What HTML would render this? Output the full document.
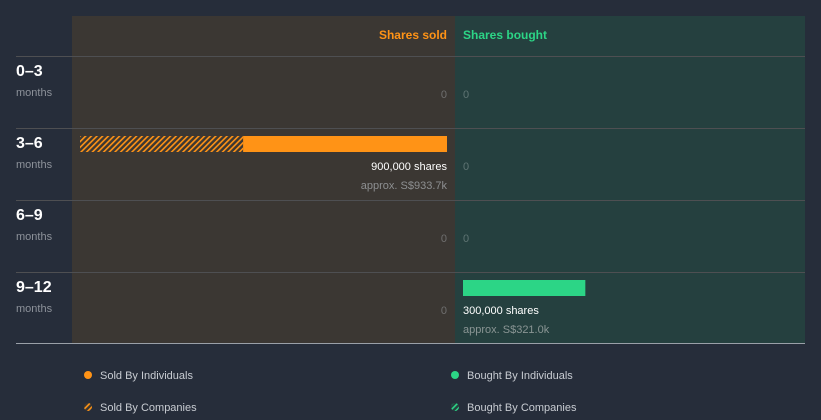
<!DOCTYPE html>
<html><head><meta charset="utf-8"><style>
html,body{margin:0;background:#262d3a;font-family:"Liberation Sans",sans-serif;overflow:hidden;width:821px;height:420px}
svg{display:block}
svg text{font-family:"Liberation Sans",sans-serif}
</style></head><body>
<svg id="c" width="821" height="420" xmlns="http://www.w3.org/2000/svg">
<defs>
<pattern id="hs" width="4" height="4" patternUnits="userSpaceOnUse" patternTransform="rotate(45)"><rect width="4" height="4" fill="#3b3733"/><rect width="1.6" height="4" fill="#ff9316"/></pattern>
<pattern id="hb" width="4" height="4" patternUnits="userSpaceOnUse" patternTransform="rotate(45)"><rect width="4" height="4" fill="#25403f"/><rect width="1.6" height="4" fill="#2cd586"/></pattern>
</defs>
<rect x="0" y="0" width="821" height="420" fill="#262d3a"/>
<rect x="72" y="16" width="383" height="327" fill="#3b3733"/>
<rect x="455" y="16" width="350" height="327" fill="#25403f"/>
<text x="447" y="39" text-anchor="end" font-size="12" font-weight="bold" fill="#ff9316">Shares sold</text>
<text x="463" y="39" font-size="12" font-weight="bold" fill="#2cd586">Shares bought</text>
<g id="rows"></g>
<line x1="16" y1="343.5" x2="805" y2="343.5" stroke="#9aa0a8" stroke-width="1"/>
<g>
<circle cx="88" cy="375" r="4" fill="#ff9316"/>
<text x="100" y="379" font-size="11" fill="#c8ccd2">Sold By Individuals</text>
<circle cx="88" cy="407" r="4" fill="url(#hs)"/>
<text x="100" y="411" font-size="11" fill="#c8ccd2">Sold By Companies</text>
<circle cx="455" cy="375" r="4" fill="#2cd586"/>
<text x="467" y="379" font-size="11" fill="#c8ccd2">Bought By Individuals</text>
<circle cx="455" cy="407" r="4" fill="url(#hb)"/>
<text x="467" y="411" font-size="11" fill="#c8ccd2">Bought By Companies</text>
</g>
</svg>
<script>
const periods=["0–3","3–6","6–9","9–12"];
const soldIndividuals=[0,500000,0,0];
const soldCompanies=[0,400000,0,0];
const boughtIndividuals=[0,0,0,300000];
const boughtCompanies=[0,0,0,0];
const soldValue=["","approx. S$933.7k","",""];
const boughtValue=["","","","approx. S$321.0k"];
const maxShares=900000;
const NS="http://www.w3.org/2000/svg";
const g=document.getElementById("rows");
const scale=v=>v/maxShares*367;
function mk(t,a,txt){const e=document.createElementNS(NS,t);for(const k in a)e.setAttribute(k,a[k]);if(txt!==undefined)e.textContent=txt;g.appendChild(e);return e;}
const fmt=n=>n.toLocaleString("en-US");
periods.forEach((p,i)=>{
  const top=56+i*72;
  const ln=mk("line",{x1:16,x2:805,y1:top+0.5,y2:top+0.5,stroke:"#4e4f52","stroke-width":1});
  
  
  const l=mk("text",{x:16,y:top+20,"font-size":16,"font-weight":"bold",fill:"#ffffff"},p);
  
  
  const m=mk("text",{x:16,y:top+40,"font-size":11,fill:"#8d929a"},"months");
  
  
  const sTot=soldIndividuals[i]+soldCompanies[i];
  if(sTot>0){
    const wc=scale(soldCompanies[i]),wi=scale(soldIndividuals[i]);
    const right=447,left=right-wc-wi;
    const bc=mk("rect",{x:left,y:top+8,width:wc,height:16,fill:"url(#hs)"});
    
    
    const bi=mk("rect",{x:left+wc,y:top+8,width:wi,height:16,fill:"#ff9316"});
    
    
    const t1=mk("text",{x:447,y:top+42,"text-anchor":"end","font-size":11,fill:"#ffffff"},fmt(sTot)+" shares");
    
    
    const t2=mk("text",{x:447,y:top+61,"text-anchor":"end","font-size":11,fill:"#8d8f91"},soldValue[i]);
    
    
  } else {
    const z=mk("text",{x:447,y:top+42,"text-anchor":"end","font-size":11,fill:"#6f6f6f"},"0");
    
    
  }
  const bTot=boughtIndividuals[i]+boughtCompanies[i];
  if(bTot>0){
    const wi=scale(boughtIndividuals[i]),wc=scale(boughtCompanies[i]);
    const bi=mk("rect",{x:463,y:top+8,width:wi,height:16,fill:"#2cd586"});
    
    
    const bc=mk("rect",{x:463+wi,y:top+8,width:wc,height:16,fill:"url(#hb)"});
    
    
    const t1=mk("text",{x:463,y:top+42,"font-size":11,fill:"#ffffff"},fmt(bTot)+" shares");
    
    
    const t2=mk("text",{x:463,y:top+61,"font-size":11,fill:"#8a9594"},boughtValue[i]);
    
    
  } else {
    const z=mk("text",{x:463,y:top+42,"font-size":11,fill:"#5f7473"},"0");
    
    
  }
});
</script>
</body></html>
